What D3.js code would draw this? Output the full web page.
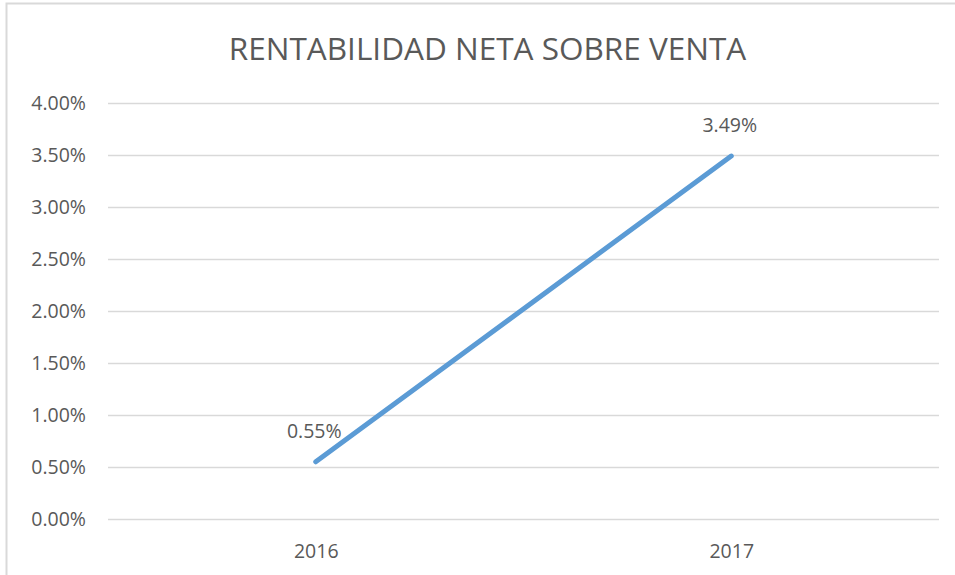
<!DOCTYPE html>
<html><head><meta charset="utf-8">
<script src="https://cdn.jsdelivr.net/npm/d3@7"></script>
<style>html,body{margin:0;padding:0;background:#fff;}svg{display:block;}</style>
</head><body>
<svg id="chart" width="955" height="575"></svg>
<script>
const title = "RENTABILIDAD NETA SOBRE VENTA";
const categories = ["2016", "2017"];
const values = [0.0055, 0.0349];
const valueLabels = ["0.55%", "3.49%"];
const yTicks = [0, 0.005, 0.01, 0.015, 0.02, 0.025, 0.03, 0.035, 0.04];

(function () {
const svg = d3.select("#chart");
const font = "'Open Sans', 'Noto Sans', sans-serif";
const textColor = "#595959";
const gridColor = "#d9d9d9";

// border of chart area
svg.append("rect").attr("x", 6.5).attr("y", 3.5).attr("width", 1000).attr("height", 1000)
  .attr("fill", "none").attr("stroke", gridColor).attr("stroke-width", 2);

const pLeft = 108, pRight = 939, pTop = 103, pBottom = 519;
const x = d3.scalePoint().domain(categories).range([pLeft, pRight]).padding(0.5);
const y = d3.scaleLinear().domain([0, 0.04]).range([pBottom, pTop]);

svg.append("text").attr("x", 487.5).attr("y", 60).attr("text-anchor", "middle")
  .attr("font-family", font).attr("font-size", 31.5).attr("fill", textColor)
  .text(title);

// gridlines
svg.append("g").selectAll("line").data(yTicks).join("line")
  .attr("x1", pLeft).attr("x2", pRight)
  .attr("y1", d => Math.round(y(d)) + 0.5).attr("y2", d => Math.round(y(d)) + 0.5)
  .attr("stroke", gridColor).attr("stroke-width", 1.5);

// y axis labels
const yAxis = d3.axisLeft(y).tickValues(yTicks).tickFormat(d3.format(".2%")).tickSize(0).tickPadding(0);
const gy = svg.append("g").attr("transform", `translate(86,0)`).call(yAxis);
gy.select(".domain").remove();
gy.selectAll("text").attr("font-family", font).attr("font-size", 19.5).attr("fill", textColor).attr("dy", "0.35em");

// x axis labels
const xAxis = d3.axisBottom(x).tickSize(0).tickPadding(0);
const gx = svg.append("g").attr("transform", `translate(0,558)`).call(xAxis);
gx.select(".domain").remove();
gx.selectAll("text").attr("font-family", font).attr("font-size", 19.5).attr("fill", textColor).attr("dy", 0);

// line
const data = categories.map((c, i) => ({c, v: values[i], l: valueLabels[i]}));
svg.append("path").datum(data)
  .attr("d", d3.line().x(d => x(d.c)).y(d => y(d.v)))
  .attr("fill", "none").attr("stroke", "#5B9BD5").attr("stroke-width", 5).attr("stroke-linecap", "round");

// data labels
svg.append("g").selectAll("text").data(data).join("text")
  .attr("x", d => x(d.c) - 1.5).attr("y", d => y(d.v) - 24)
  .attr("text-anchor", "middle").attr("font-family", font).attr("font-size", 19.5).attr("fill", textColor)
  .text(d => d.l);
})();
</script>
</body></html>
